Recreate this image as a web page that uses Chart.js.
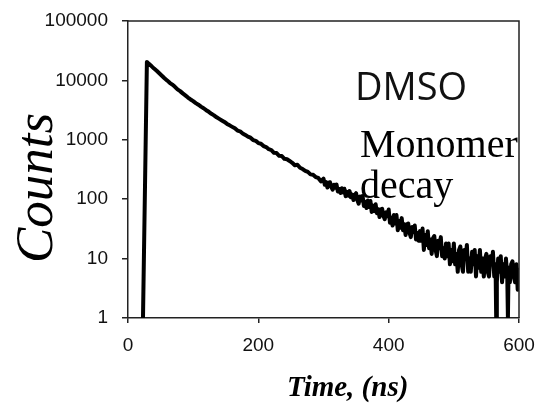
<!DOCTYPE html>
<html lang="en">
<head>
    <meta charset="UTF-8">
    <title>DMSO monomer decay</title>
    <script src="https://cdn.jsdelivr.net/npm/chart.js"></script>
    <style>
        body { margin: 0; background: #fff; }
    </style>
</head>
<body>
    <canvas id="decayChart" width="537" height="404"></canvas>

    <script>
        // Values (time in ns, photon counts)
        // rise + smooth part of the decay
        const earlyTimes = [
            23, 29, 32, 36, 40, 44, 48, 52, 56, 60, 64, 68, 72, 76, 80, 84, 88, 92, 96, 100,
            104, 108, 112, 116, 120, 124, 128, 132, 136, 140, 144, 148, 152, 156, 160, 164, 168, 172, 176, 180,
            184, 188, 192, 196, 200, 204, 208, 212, 216, 220, 224, 228, 232, 236, 240, 244, 248, 252, 256, 260,
            264, 268, 272, 276, 280, 284, 288, 292, 296
        ];
        const earlyCounts = [
            1, 20500, 19000, 17400, 15800, 14500, 13200, 12000, 10900, 10000, 9100, 8500, 7800, 7050, 6600, 6050, 5600, 5150, 4780, 4480,
            4150, 3900, 3620, 3400, 3150, 2960, 2740, 2580, 2390, 2250, 2120, 2000, 1850, 1750, 1650, 1560, 1430, 1390, 1280, 1210,
            1130, 1085, 990, 960, 880, 860, 785, 755, 695, 672, 605, 598, 538, 534, 478, 470, 440, 410, 372, 380,
            338, 322, 300, 288, 262, 258, 236, 228, 200
        ];
        // noisy tail
        const tailTimes = [
            300, 302, 304, 306, 308, 310, 312, 314, 316, 318,
            320, 322, 324, 326, 328, 330, 332, 334, 336, 338,
            340, 342, 344, 346, 348, 350, 352, 354, 356, 358,
            360, 362, 364, 366, 368, 370, 372, 374, 376, 378,
            380, 382, 384, 386, 388, 390, 392, 394, 396, 398,
            400, 402, 404, 406, 408, 410, 412, 414, 416, 418,
            420, 422, 424, 426, 428, 430, 432, 434, 436, 438,
            440, 442, 444, 446, 448, 450, 452, 454, 456, 458,
            460, 462, 464, 466, 468, 470, 472, 474, 476, 478,
            480, 482, 484, 486, 488, 490, 492, 494, 496, 498,
            500, 502, 504, 506, 508, 510, 512, 514, 516, 518,
            520, 522, 524, 526, 528, 530, 532, 534, 536, 538,
            540, 542, 544, 546, 548, 550, 552, 554, 556, 558,
            560, 562, 564, 565, 566, 568, 570, 572, 574, 576,
            578, 580, 582, 583, 584, 586, 588, 590, 592, 594,
            596, 598, 600
        ];
        const tailCounts = [
            221, 175, 194, 157, 190, 193, 160, 145, 175, 157,
            176, 135, 150, 127, 153, 130, 150, 112, 133, 115,
            137, 108, 120, 97, 118, 126, 96, 84, 111, 95,
            113, 77, 91, 71, 95, 74, 93, 61, 78, 63,
            82, 58, 68, 50, 67, 69, 52, 46, 60, 52,
            67, 40, 49, 36, 54, 39, 54, 30, 43, 33,
            48, 30, 38, 25, 38, 39, 27, 23, 34, 28,
            36, 21, 27, 20, 29, 20, 32, 14, 25, 17,
            29, 15, 21, 12, 22, 24, 14, 11, 20, 15,
            23, 11, 15, 10, 18, 11, 18, 8, 14, 9,
            18, 8, 12, 6, 14, 16, 8, 6, 14, 10,
            17, 6, 10, 6, 13, 8, 14, 5, 11, 7,
            14, 6, 10, 5, 10, 12, 6, 5, 11, 8,
            13, 5, 8, 1, 4, 10, 6, 11, 4, 8,
            5, 10, 5, 1, 7, 4, 8, 9, 5, 4,
            8, 3, 7
        ];
        const xTicks = [0, 200, 400, 600];
        const yTicks = [1, 10, 100, 1000, 10000, 100000];
        const xTitle = 'Time, (ns)';
        const yTitle = 'Counts';
        const solventLabel = 'DMSO';
        const noteLines = ['Monomer', 'decay'];

        const timeNs = earlyTimes.concat(tailTimes);
        const counts = earlyCounts.concat(tailCounts);
        const points = timeNs.map((t, i) => ({ x: t, y: counts[i] }));

        // box around the plot plus the axis titles and the notes
        const framePlugin = {
            id: 'framePlugin',
            afterDraw(chart) {
                const { ctx, chartArea: a } = chart;
                ctx.save();
                ctx.strokeStyle = '#222';
                ctx.lineWidth = 1.5;
                ctx.beginPath();
                ctx.moveTo(a.left, a.top);
                ctx.lineTo(a.right, a.top);
                ctx.lineTo(a.right, a.bottom);
                ctx.stroke();

                ctx.fillStyle = '#000';
                ctx.textAlign = 'left';
                ctx.textBaseline = 'alphabetic';
                ctx.font = 'bold italic 29px "Liberation Serif"';
                ctx.fillText(xTitle, 287, 396);

                ctx.save();
                ctx.translate(52, 188);
                ctx.rotate(-Math.PI / 2);
                ctx.textAlign = 'center';
                ctx.font = 'italic 53px "Liberation Serif"';
                ctx.fillText(yTitle, 0, 0);
                ctx.restore();

                ctx.fillStyle = '#111';
                ctx.font = '38px "Open Sans"';
                ctx.fillText(solventLabel, 355, 100);

                ctx.fillStyle = '#000';
                ctx.font = '40px "Liberation Serif"';
                ctx.fillText(noteLines[0], 360, 157);
                ctx.fillText(noteLines[1], 360, 198);
                ctx.restore();
            }
        };

        const tickFont = { family: '"Liberation Sans", Arial, sans-serif', size: 19 };

        new Chart(document.getElementById('decayChart').getContext('2d'), {
            type: 'line',
            data: {
                datasets: [{
                    data: points,
                    borderColor: '#000',
                    borderWidth: 4,
                    borderJoinStyle: 'round',
                    pointRadius: 0,
                    tension: 0,
                    fill: false
                }]
            },
            options: {
                responsive: false,
                animation: false,
                layout: { padding: { top: 21, right: 18, left: 0, bottom: 0 } },
                plugins: {
                    legend: { display: false },
                    tooltip: { enabled: false }
                },
                scales: {
                    x: {
                        type: 'linear',
                        min: 0,
                        max: 600,
                        afterBuildTicks: s => { s.ticks = xTicks.map(v => ({ value: v })); },
                        afterFit: s => { s.height = 86; s.paddingLeft = 0; s.paddingRight = 0; },
                        grid: { drawOnChartArea: false, drawTicks: true, tickLength: 5, color: '#222', lineWidth: 1.5 },
                        border: { display: true, color: '#222', width: 1.5 },
                        ticks: { color: '#111', font: tickFont, padding: 11, maxRotation: 0, callback: v => String(v) }
                    },
                    y: {
                        type: 'logarithmic',
                        min: 1,
                        max: 100000,
                        afterBuildTicks: s => { s.ticks = yTicks.map(v => ({ value: v })); },
                        afterFit: s => { s.width = 128; s.paddingTop = 0; s.paddingBottom = 0; },
                        grid: { drawOnChartArea: false, drawTicks: true, tickLength: 6, color: '#222', lineWidth: 1.5 },
                        border: { display: true, color: '#222', width: 1.5 },
                        ticks: { color: '#111', font: tickFont, padding: 14, callback: v => String(v) }
                    }
                }
            },
            plugins: [framePlugin]
        });
    </script>
</body>
</html>
